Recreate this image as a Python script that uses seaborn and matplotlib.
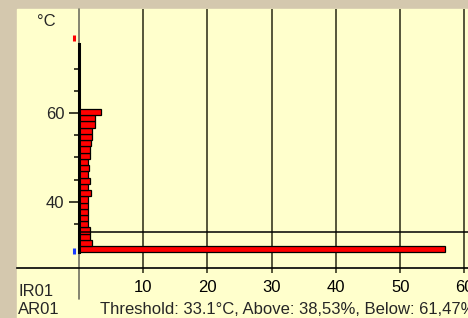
import numpy as np
import pandas as pd
import matplotlib
matplotlib.use("Agg")
import matplotlib.pyplot as plt
from matplotlib.patches import Rectangle
from matplotlib.ticker import FixedLocator
import seaborn as sns

# histogram of temperatures (percent of pixels per bin), lowest bin first
bin_pct = [57.0, 2.0, 1.7, 1.75, 1.5, 1.5, 1.45, 1.5, 1.45, 1.95, 1.5, 1.7,
           1.45, 1.65, 1.5, 1.75, 1.75, 1.85, 2.0, 2.1, 2.6, 2.5, 3.4]
temp_lo, temp_hi = 28.6, 60.9
threshold = 33.1
above_pct, below_pct = "38,53", "61,47"
min_temp, max_temp = 29.0, 76.8
x_ticks = [10, 20, 30, 40, 50, 60]
y_major = [40, 60]
y_minor = [35, 45, 50, 55, 65, 70]

edges = np.linspace(temp_lo, temp_hi, len(bin_pct) + 1)
centers = (edges[:-1] + edges[1:]) / 2
df = pd.DataFrame({'temp': centers, 'pct': bin_pct})

sns.set_style("white")
plt.rcParams['font.family'] = ['Liberation Sans', 'DejaVu Sans']

W, H = 468, 318
fig = plt.figure(figsize=(W / 100, H / 100), dpi=100, facecolor='#D4C8AE')
fig.patches.append(Rectangle((17 / W, 0), 1 - 17 / W, 1 - 9 / H,
                             transform=fig.transFigure, color='#FFFFCC', zorder=-10))

ax = fig.add_axes([17 / W, 50 / H, 451 / W, 259 / H])
ax.set_facecolor('#FFFFCC')

grid_col = '#55553a'
sns.histplot(data=df, y='temp', weights='pct', bins=list(edges), color='#FF0000',
             edgecolor='black', linewidth=0.9, alpha=1, ax=ax, zorder=3)

ax.set_xlim(-9.6, 60.55)
ax.set_ylim(25.1, 83.4)
ax.set_xlabel('')
ax.set_ylabel('')

# vertical grid at the x ticks
ax.set_xticks(x_ticks)
ax.grid(axis='x', color=grid_col, linewidth=1.4, zorder=1)
ax.tick_params(axis='x', direction='out', length=3.6, width=1.4, color=grid_col,
               pad=5, labelsize=12, labelcolor='black', bottom=True)

# zero line (thin) with the y-axis spine (thick) on it
ax.axvline(0, ymin=-31 / 259, ymax=1, color='#707060', linewidth=1.2,
           clip_on=False, zorder=2)
for s in ['top', 'right']:
    ax.spines[s].set_visible(False)
ax.spines['bottom'].set_color('black')
ax.spines['bottom'].set_linewidth(1.2)
ax.spines['left'].set_position(('data', 0))
ax.spines['left'].set_bounds(temp_lo, 75.5)
ax.spines['left'].set_linewidth(2.2)
ax.spines['left'].set_color('black')
ax.spines['left'].set_zorder(4)

ax.yaxis.set_major_locator(FixedLocator(y_major))
ax.yaxis.set_minor_locator(FixedLocator(y_minor))
ax.tick_params(axis='y', which='major', direction='out', length=7.2, width=1.3,
               color='#303020', pad=3, labelsize=12, left=True)
ax.tick_params(axis='y', which='minor', direction='out', length=3.6, width=1.3,
               color='#303020', left=True)

# threshold line
ax.axhline(threshold, xmin=9.6 / 70.15, xmax=1, color='black', linewidth=1.1, zorder=4)

# min / max markers
ax.plot([-0.8], [max_temp], marker='|', color='red', ms=4, mew=2.2, clip_on=False, zorder=5)
ax.plot([-0.8], [min_temp], marker='|', color='#1a3cff', ms=4, mew=2.2, clip_on=False, zorder=5)

fig.text(37 / W, 1 - 22 / H, '°C', fontsize=12, va='center', ha='left')
fig.text(18 / W, 1 - 292 / H, 'IR01', fontsize=12, va='center', ha='left')
fig.text(18 / W, 1 - 310 / H, 'AR01', fontsize=12, va='center', ha='left')
fig.text(100 / W, 1 - 310 / H,
         f'Threshold: {threshold}°C, Above: {above_pct}%, Below: {below_pct}%',
         fontsize=12, va='center', ha='left')

fig.savefig('out.png', dpi=100, facecolor=fig.get_facecolor())
